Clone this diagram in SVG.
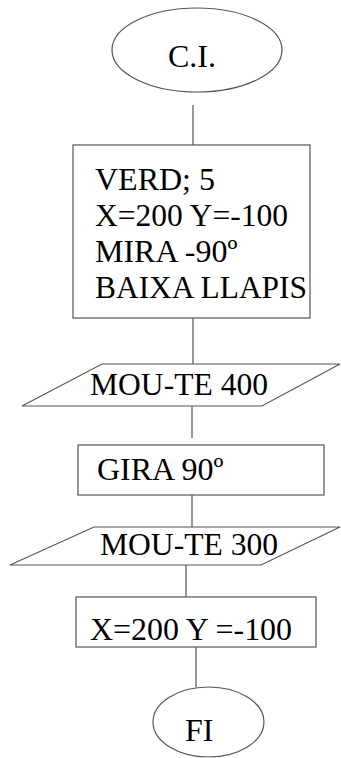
<svg xmlns="http://www.w3.org/2000/svg" width="341" height="758" viewBox="0 0 341 758">
<style>
.s{fill:#fff;stroke:#555;stroke-width:1.2}
.c{fill:none;stroke:#555;stroke-width:1.2}
text{font-family:"Liberation Serif","Times New Roman",serif;font-size:32px;fill:#000}
</style>
<rect width="341" height="758" fill="#fff"/>
<g id="connectors">
<line class="c" x1="193" y1="105" x2="193" y2="145"/>
<line class="c" x1="193" y1="318" x2="193" y2="364"/>
<line class="c" x1="192" y1="406" x2="192" y2="438"/>
<line class="c" x1="192" y1="495" x2="192" y2="527"/>
<line class="c" x1="186" y1="565" x2="186" y2="597"/>
<line class="c" x1="196" y1="647" x2="196" y2="687"/>
</g>
<g id="n-ci">
<ellipse class="s" cx="197" cy="50" rx="85" ry="42"/>
<text x="168" y="67">C.I.</text>
</g>
<g id="n-init">
<rect class="s" x="73" y="145" width="237" height="173"/>
<text x="95" y="190">VERD; 5</text>
<text x="95" y="226" textLength="193" lengthAdjust="spacingAndGlyphs">X=200 Y=-100</text>
<text x="95" y="262">MIRA -90º</text>
<text x="95" y="298" textLength="212" lengthAdjust="spacingAndGlyphs">BAIXA LLAPIS</text>
</g>
<g id="n-mou400">
<polygon class="s" points="102,364 340,364 262,406 22,406"/>
<text x="90" y="395" textLength="178" lengthAdjust="spacingAndGlyphs">MOU-TE 400</text>
</g>
<g id="n-gira">
<rect class="s" x="78" y="445" width="246" height="50"/>
<text x="97" y="480">GIRA 90º</text>
</g>
<g id="n-mou300">
<polygon class="s" points="94,527 340,527 261,565 10,565"/>
<text x="100" y="555" textLength="178" lengthAdjust="spacingAndGlyphs">MOU-TE 300</text>
</g>
<g id="n-pos">
<rect class="s" x="76" y="597" width="240" height="50"/>
<text x="90" y="640" textLength="202" lengthAdjust="spacingAndGlyphs">X=200 Y =-100</text>
</g>
<g id="n-fi">
<ellipse class="s" cx="208.5" cy="722" rx="55.5" ry="35"/>
<text x="185" y="741">FI</text>
</g>
</svg>
